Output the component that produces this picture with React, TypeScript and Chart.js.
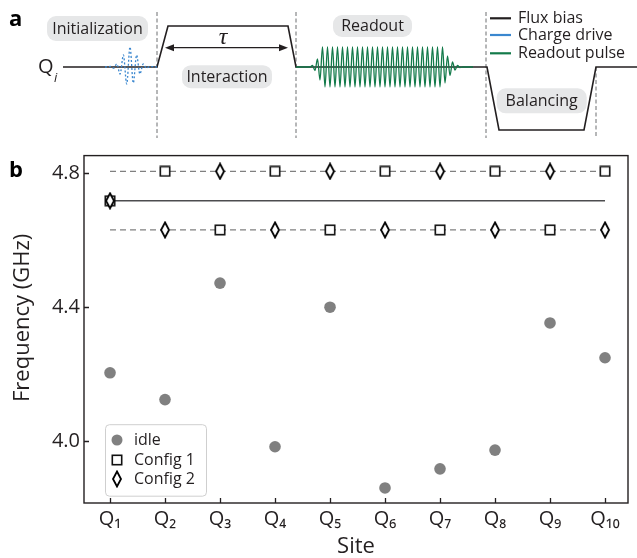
import React, { useEffect, useRef } from 'react';
import { Chart, registerables } from 'chart.js';

Chart.register(...registerables);

const FONT = '"Open Sans", "Noto Sans", sans-serif';
const INK = '#231f20';
const PILL = '#e6e7e8';

// ---------- Panel b data ----------
const sites = [1, 2, 3, 4, 5, 6, 7, 8, 9, 10];
const siteLabels = ['Q₁', 'Q₂', 'Q₃', 'Q₄', 'Q₅', 'Q₆', 'Q₇', 'Q₈', 'Q₉', 'Q₁₀'];
const idleFreq = [4.204, 4.124, 4.472, 3.983, 4.4, 3.86, 3.917, 3.973, 4.353, 4.249];
const config1Freq = [4.718, 4.806, 4.631, 4.806, 4.631, 4.806, 4.631, 4.806, 4.631, 4.806];
const config2Freq = [4.718, 4.631, 4.806, 4.631, 4.806, 4.631, 4.806, 4.631, 4.806, 4.631];
const upperGuide = 4.806;
const middleGuide = 4.718;
const lowerGuide = 4.631;
const freqTicks = [4.0, 4.4, 4.8];
const freqTickLabels = ['4.0', '4.4', '4.8'];
const freqRange = [3.815, 4.853];
const siteRange = [0.527, 10.418];

// ---------- Panel a data (schematic pulse sequence) ----------
const fluxTime = [6.3, 15.7, 16.8, 28.8, 29.6, 48.7, 49.9, 58.4, 59.6, 63.7];
const fluxLevel = [0, 0, 4.1, 4.1, 0, 0, -6.3, -6.3, 0, 0];
const chargeWindow = [10.5, 15.7];
const chargeStart = 11.02;
const chargeStep = 0.33;
const chargeDrive = [0.05, -0.12, 0.3, -0.7, 1.2, -1.7, 2.0, -1.6, 1.2, -0.7, 0.3, -0.12, 0.05];
const readoutWindow = [29.6, 47.3];
const readoutStart = 31.0;
const readoutStep = 0.25;
const readoutPulse = [
  0, 0.15, -0.35, 0.8, -1.3,
  2, -2, 2, -2, 2, -2, 2, -2, 2, -2,
  2, -2, 2, -2, 2, -2, 2, -2, 2, -2,
  2, -2, 2, -2, 2, -2, 2, -2, 2, -2,
  2, -2, 2, -2, 2, -2, 2, -2, 2, -2,
  2, -2, 2, -2, 2, -2, 2, -2, 2,
  -1.6, 1.1, -0.85, 0.5, -0.3, 0.15, -0.05, 0,
];
const boundaryTime = [15.7, 29.6, 48.6, 59.6];
const boundaryTop = [5.5, 5.5, 5.5, 0];
const boundaryBottom = -7.1;
const timeRange = [0, 63.7];
const levelRange = [-7.8, 6.7];
const legendANames = ['Flux bias', 'Charge drive', 'Readout pulse'];

const annotationsA = [
  { text: 'Initialization', t: 9.75, level: 3.85, w: 101, h: 25 },
  { text: 'Interaction', t: 22.7, level: -0.97, w: 90, h: 23 },
  { text: 'Readout', t: 37.25, level: 4.1, w: 79, h: 22 },
  { text: 'Balancing', t: 54.17, level: -3.38, w: 90, h: 25 },
];

function makeSquare(): HTMLCanvasElement {
  const c = document.createElement('canvas');
  c.width = 12;
  c.height = 12;
  const g = c.getContext('2d')!;
  g.fillStyle = '#fff';
  g.fillRect(1, 1, 10, 10);
  g.strokeStyle = '#111';
  g.lineWidth = 1.6;
  g.strokeRect(1.3, 1.3, 9.4, 9.4);
  return c;
}

function makeDiamond(): HTMLCanvasElement {
  const c = document.createElement('canvas');
  c.width = 12;
  c.height = 18;
  const g = c.getContext('2d')!;
  g.beginPath();
  g.moveTo(6, 1.5);
  g.lineTo(10, 9);
  g.lineTo(6, 16.5);
  g.lineTo(2, 9);
  g.closePath();
  g.fillStyle = '#fff';
  g.fill();
  g.strokeStyle = '#000';
  g.lineWidth = 1.8;
  g.lineJoin = 'miter';
  g.stroke();
  return c;
}

function rr(ctx: CanvasRenderingContext2D, x: number, y: number, w: number, h: number, r: number) {
  ctx.beginPath();
  ctx.moveTo(x + r, y);
  ctx.lineTo(x + w - r, y);
  ctx.arcTo(x + w, y, x + w, y + r, r);
  ctx.lineTo(x + w, y + h - r);
  ctx.arcTo(x + w, y + h, x + w - r, y + h, r);
  ctx.lineTo(x + r, y + h);
  ctx.arcTo(x, y + h, x, y + h - r, r);
  ctx.lineTo(x, y + r);
  ctx.arcTo(x, y, x + r, y, r);
  ctx.closePath();
}

export default function App() {
  const refA = useRef<HTMLCanvasElement>(null);
  const refB = useRef<HTMLCanvasElement>(null);

  useEffect(() => {
    const square = makeSquare();
    const diamond = makeDiamond();

    // ---------------- Panel a ----------------
    const lineBase = { showLine: true, pointRadius: 0, fill: false };
    const boundarySets = boundaryTime.map((t, i) => ({
      ...lineBase,
      label: '',
      data: [
        { x: t, y: boundaryTop[i] },
        { x: t, y: boundaryBottom },
      ],
      borderColor: '#6d6e71',
      borderWidth: 1,
      borderDash: [4, 2.5],
      order: 3,
    }));

    const panelAPlugin = {
      id: 'panelA',
      beforeDatasetsDraw(chart: any) {
        const { ctx, scales } = chart;
        const sx = scales.x;
        const sy = scales.y;
        ctx.save();
        for (const a of annotationsA) {
          const cx = sx.getPixelForValue(a.t);
          const cy = sy.getPixelForValue(a.level);
          ctx.fillStyle = PILL;
          rr(ctx, cx - a.w / 2, cy - a.h / 2, a.w, a.h, 9);
          ctx.fill();
          ctx.fillStyle = INK;
          ctx.font = `16px ${FONT}`;
          ctx.textAlign = 'center';
          ctx.textBaseline = 'middle';
          ctx.fillText(a.text, cx, cy + 0.5);
        }
        ctx.restore();
      },
      afterDraw(chart: any) {
        const { ctx, scales, chartArea } = chart;
        const sx = scales.x;
        const sy = scales.y;
        ctx.save();
        // tau arrow
        const ay = sy.getPixelForValue(1.93);
        const ax0 = sx.getPixelForValue(16.5);
        const ax1 = sx.getPixelForValue(28.8);
        ctx.strokeStyle = INK;
        ctx.fillStyle = INK;
        ctx.lineWidth = 1.3;
        ctx.beginPath();
        ctx.moveTo(ax0 + 4, ay);
        ctx.lineTo(ax1 - 4, ay);
        ctx.stroke();
        ctx.beginPath();
        ctx.moveTo(ax0, ay);
        ctx.lineTo(ax0 + 9, ay - 3.5);
        ctx.lineTo(ax0 + 9, ay + 3.5);
        ctx.closePath();
        ctx.fill();
        ctx.beginPath();
        ctx.moveTo(ax1, ay);
        ctx.lineTo(ax1 - 9, ay - 3.5);
        ctx.lineTo(ax1 - 9, ay + 3.5);
        ctx.closePath();
        ctx.fill();
        ctx.font = `italic 24px "Liberation Serif", serif`;
        ctx.textAlign = 'center';
        ctx.textBaseline = 'alphabetic';
        ctx.fillText('τ', sx.getPixelForValue(22.3), sy.getPixelForValue(2.3));
        // Q_i
        ctx.font = `20px ${FONT}`;
        ctx.textAlign = 'right';
        ctx.textBaseline = 'middle';
        ctx.fillText('Q', sx.getPixelForValue(5.35), sy.getPixelForValue(0) + 0.5);
        ctx.font = `italic 13px ${FONT}`;
        ctx.textAlign = 'left';
        ctx.fillText('i', sx.getPixelForValue(5.4), sy.getPixelForValue(-1.1));
        // legend
        const lx = chartArea.right - 147;
        const rows = [18.3, 35, 53.3];
        legendANames.forEach((name, i) => {
          const ds = chart.data.datasets.find((d: any) => d.label === name);
          const yy = chartArea.top + rows[i];
          ctx.strokeStyle = ds.borderColor;
          ctx.lineWidth = 2.2;
          ctx.setLineDash([]);
          ctx.beginPath();
          ctx.moveTo(lx, yy);
          ctx.lineTo(lx + 21, yy);
          ctx.stroke();
          ctx.fillStyle = INK;
          ctx.font = `16px ${FONT}`;
          ctx.textAlign = 'left';
          ctx.textBaseline = 'middle';
          ctx.fillText(name, lx + 28, yy + 0.5);
        });
        // panel label
        ctx.font = `bold 22px ${FONT}`;
        ctx.textAlign = 'left';
        ctx.textBaseline = 'alphabetic';
        ctx.fillStyle = '#000';
        ctx.fillText('a', 9, 26);
        ctx.restore();
      },
    };

    const chartA = new Chart(refA.current!, {
      type: 'scatter',
      data: {
        datasets: [
          {
            ...lineBase,
            label: 'Charge drive',
            data: [
              { x: chargeWindow[0], y: 0 },
              ...chargeDrive.map((v, i) => ({ x: chargeStart + i * chargeStep, y: v })),
              { x: chargeWindow[1], y: 0 },
            ],
            borderColor: '#3a87cf',
            borderWidth: 1.3,
            borderDash: [2, 2],
            cubicInterpolationMode: 'monotone',
            order: 0,
          },
          {
            ...lineBase,
            label: 'Readout pulse',
            data: [
              { x: readoutWindow[0], y: 0 },
              ...readoutPulse.map((v, i) => ({ x: readoutStart + i * readoutStep, y: v })),
              { x: readoutWindow[1], y: 0 },
            ],
            borderColor: '#137a4a',
            borderWidth: 1.3,
            cubicInterpolationMode: 'monotone',
            order: 1,
          },
          {
            ...lineBase,
            label: 'Flux bias',
            data: fluxTime.map((t, i) => ({ x: t, y: fluxLevel[i] })),
            borderColor: INK,
            borderWidth: 1.6,
            order: 2,
          },
          ...boundarySets,
        ] as any,
      },
      options: {
        animation: false,
        responsive: false,
        events: [],
        layout: { padding: 0 },
        plugins: { legend: { display: false }, tooltip: { enabled: false } },
        scales: {
          x: { type: 'linear', display: false, min: timeRange[0], max: timeRange[1] },
          y: { type: 'linear', display: false, min: levelRange[0], max: levelRange[1] },
        },
      } as any,
      plugins: [panelAPlugin],
    });

    // ---------------- Panel b ----------------
    const panelBPlugin = {
      id: 'panelB',
      afterDraw(chart: any) {
        const { ctx, chartArea, scales } = chart;
        const { left, right, top, bottom } = chartArea;
        ctx.save();
        ctx.strokeStyle = INK;
        ctx.lineWidth = 1.4;
        ctx.strokeRect(left, top, right - left, bottom - top);
        ctx.lineWidth = 1.3;
        ctx.beginPath();
        for (const v of freqTicks) {
          const py = Math.round(scales.y.getPixelForValue(v)) + 0.5;
          ctx.moveTo(left, py);
          ctx.lineTo(left + 5, py);
        }
        for (const v of sites) {
          const px = Math.round(scales.x.getPixelForValue(v)) + 0.5;
          ctx.moveTo(px, bottom);
          ctx.lineTo(px, bottom - 5);
        }
        ctx.stroke();

        // legend
        const bx = left + 21;
        const bw = 101;
        const bh = 71.5;
        const by = bottom - 7.3 - bh;
        ctx.fillStyle = 'rgba(255,255,255,0.85)';
        ctx.strokeStyle = '#cfcfcf';
        ctx.lineWidth = 1;
        rr(ctx, bx + 0.5, by + 0.5, bw, bh, 4);
        ctx.fill();
        ctx.stroke();
        const rows = [16, 36, 55];
        const items = chart.data.datasets.filter((d: any) => d.label && !d.label.startsWith('_'));
        items.forEach((ds: any, i: number) => {
          const cx = Math.round(bx + 11.7);
          const cy = Math.round(by + rows[i]);
          const st = ds.pointStyle;
          if (st === 'circle') {
            ctx.fillStyle = ds.backgroundColor;
            ctx.beginPath();
            ctx.arc(cx, cy, 5.5, 0, Math.PI * 2);
            ctx.fill();
          } else {
            ctx.drawImage(st, cx - st.width / 2, cy - st.height / 2);
          }
          ctx.fillStyle = INK;
          ctx.font = `16px ${FONT}`;
          ctx.textAlign = 'left';
          ctx.textBaseline = 'middle';
          ctx.fillText(ds.label, bx + 29, cy + 0.5);
        });

        ctx.font = `bold 22px ${FONT}`;
        ctx.fillStyle = '#000';
        ctx.textAlign = 'left';
        ctx.textBaseline = 'alphabetic';
        ctx.fillText('b', 9, 32);
        ctx.restore();
      },
    };

    const guide = (level: number, dashed: boolean) => ({
      label: '_guide',
      showLine: true,
      pointRadius: 0,
      data: [
        { x: sites[0], y: level },
        { x: sites[sites.length - 1], y: level },
      ],
      borderColor: dashed ? '#808080' : '#4d4d4f',
      borderWidth: dashed ? 1.1 : 1.5,
      borderDash: dashed ? [6, 4] : [],
      order: 10,
    });

    const chartB = new Chart(refB.current!, {
      type: 'scatter',
      data: {
        datasets: [
          {
            label: 'idle',
            data: sites.map((s, i) => ({ x: s, y: idleFreq[i] })),
            pointStyle: 'circle',
            pointRadius: 5.8,
            backgroundColor: '#808080',
            borderColor: '#808080',
            borderWidth: 0,
            order: 1,
          },
          {
            label: 'Config 1',
            data: sites.map((s, i) => ({ x: s, y: config1Freq[i] })),
            pointStyle: square,
            pointRadius: 6,
            order: 2,
          },
          {
            label: 'Config 2',
            data: sites.map((s, i) => ({ x: s, y: config2Freq[i] })),
            pointStyle: diamond,
            pointRadius: 6,
            order: 1,
          },
          guide(upperGuide, true),
          guide(lowerGuide, true),
          guide(middleGuide, false),
        ] as any,
      },
      options: {
        animation: false,
        responsive: false,
        events: [],
        layout: { padding: { top: 10.6, right: 9, left: 0, bottom: 0 } },
        plugins: { legend: { display: false }, tooltip: { enabled: false } },
        scales: {
          x: {
            type: 'linear',
            min: siteRange[0],
            max: siteRange[1],
            afterBuildTicks: (s: any) => {
              s.ticks = sites.map((v) => ({ value: v }));
            },
            afterFit: (s: any) => {
              s.height = 55;
              s.paddingLeft = 0;
              s.paddingRight = 0;
              s.paddingTop = 0;
              s.paddingBottom = 0;
            },
            grid: { display: false, drawTicks: false },
            border: { display: false },
            ticks: {
              autoSkip: false,
              maxRotation: 0,
              minRotation: 0,
              padding: 4,
              color: INK,
              font: { family: FONT, size: 20 },
              callback: (_v: any, i: number) => siteLabels[i],
            },
            title: {
              display: true,
              text: 'Site',
              color: INK,
              font: { family: FONT, size: 22, lineHeight: 1 },
              padding: { top: 0, bottom: 0 },
            },
          },
          y: {
            type: 'linear',
            min: freqRange[0],
            max: freqRange[1],
            afterBuildTicks: (s: any) => {
              s.ticks = freqTicks.map((v) => ({ value: v }));
            },
            afterFit: (s: any) => {
              s.width = 84;
              s.paddingLeft = 0;
              s.paddingRight = 0;
              s.paddingTop = 0;
              s.paddingBottom = 0;
            },
            grid: { display: false, drawTicks: false },
            border: { display: false },
            ticks: {
              padding: 4,
              color: INK,
              font: { family: FONT, size: 20 },
              callback: (_v: any, i: number) => freqTickLabels[i],
            },
            title: {
              display: true,
              text: '    Frequency (GHz)',
              color: INK,
              font: { family: FONT, size: 22, lineHeight: 1.2 },
              padding: { top: 10, bottom: 0 },
            },
          },
        },
      } as any,
      plugins: [panelBPlugin],
    });

    return () => {
      chartA.destroy();
      chartB.destroy();
    };
  }, []);

  return (
    <div style={{ position: 'fixed', left: 0, top: 0, width: 637, height: 558, background: '#fff' }}>
      <canvas
        ref={refA}
        width={637}
        height={145}
        style={{ position: 'absolute', left: 0, top: 0, width: 637, height: 145 }}
      />
      <canvas
        ref={refB}
        width={637}
        height={413}
        style={{ position: 'absolute', left: 0, top: 145, width: 637, height: 413 }}
      />
    </div>
  );
}
